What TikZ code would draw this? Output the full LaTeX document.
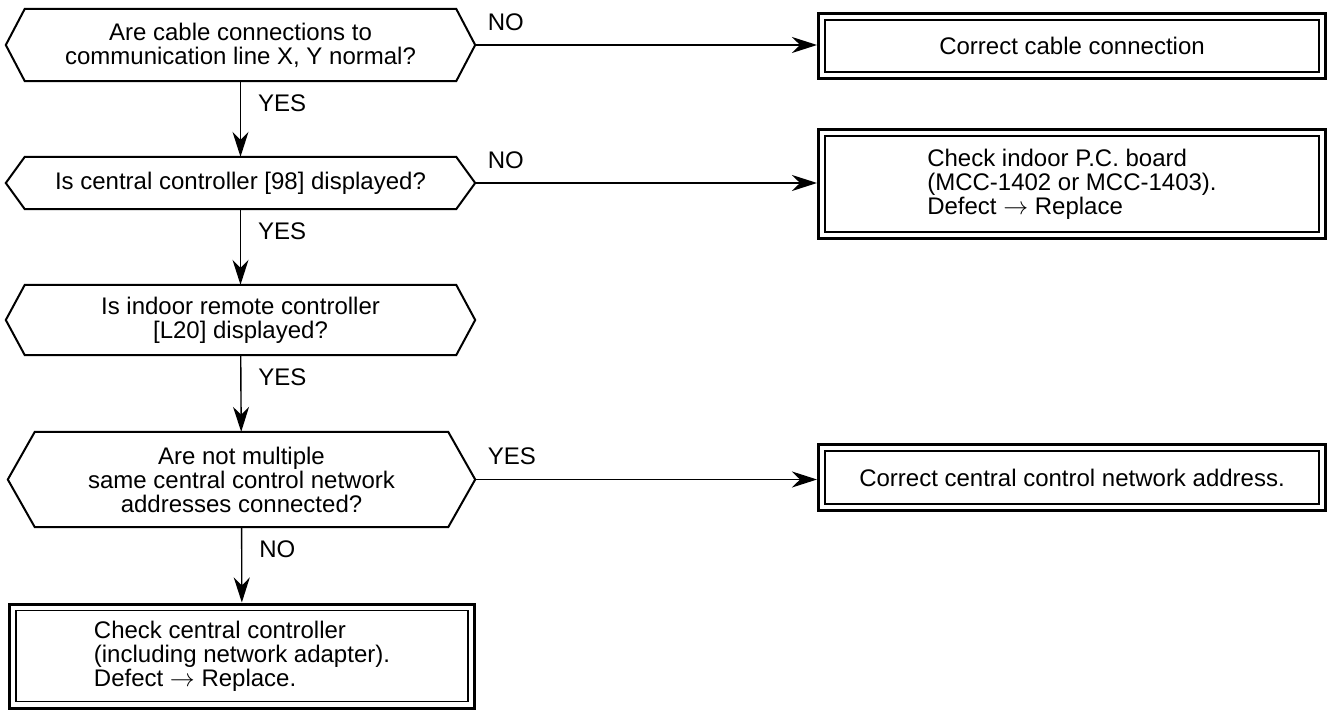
\documentclass[tikz,border=0pt]{standalone}
\usepackage{fontspec}
\setmainfont{Liberation Sans}
\usetikzlibrary{arrows.meta,positioning,calc}

\begin{document}
\begin{tikzpicture}[
  x=1pt, y=-1pt,
  font=\fontsize{24}{24}\selectfont,
  decision/.style={inner sep=0, align=center},
  decision frame/.style={line width=2pt, line join=miter},
  box/.style={draw, line width=3pt, inner sep=0, align=center},
  inner frame/.style={line width=1.3pt},
  arrow/.style={-{Stealth[length=25pt,width=16pt,inset=8pt]}, line width=1.4pt},
  tag/.style={inner sep=0}
]
  \useasboundingbox (0,0) rectangle (1330,711);

  % Questions
  \node[decision, minimum width=431pt, minimum height=72pt] (q1) at (240.5,45) {Are cable connections to\\communication line X, Y normal?};
  \node[decision, minimum width=431pt, minimum height=52pt] (q2) at (240.5,183) {Is central controller [98] displayed?};
  \node[decision, minimum width=431pt, minimum height=70pt] (q3) at (240.5,320) {Is indoor remote controller\\{}[L20] displayed?};
  \node[decision, minimum width=413pt, minimum height=95pt] (q4) at (241.5,479.5) {Are not multiple\\same central control network\\addresses connected?};

  % Actions
  \node[box, minimum width=507pt, minimum height=65pt] (b1) at (1072,46) {Correct cable connection};
  \node[box, minimum width=507pt, minimum height=109pt, align=left] (b2) at (1072,184) {Check indoor P.C. board\\(MCC-1402 or MCC-1403).\\Defect $\rightarrow$ Replace};
  \node[box, minimum width=507pt, minimum height=66pt] (b3) at (1072,477.5) {Correct central control network address.};
  \node[box, minimum width=465pt, minimum height=104pt, align=left] (chk) at (242,656) {Check central controller\\(including network adapter).\\Defect $\rightarrow$ Replace.};

  % Hexagon outlines
  \foreach \q/\ins in {q1/19, q2/19, q3/19, q4/27}
    \draw[decision frame] (\q.north west) -- (\q.north east) -- ([xshift=\ins pt]\q.east) coordinate (\q-tip)
      -- (\q.south east) -- (\q.south west) -- ([xshift=-\ins pt]\q.west) -- cycle;

  % Inner frames
  \foreach \b in {b1,b2,b3,chk}
    \draw[inner frame] ([shift={(8,8)}]\b.north west) rectangle ([shift={(-8,-8)}]\b.south east);

  % Arrows
  \draw[arrow] (q1) -- (q2) node[tag, pos=0, anchor=north west, xshift=17pt, yshift=-13pt] {YES};
  \draw[arrow] (q2) -- (q3) node[tag, pos=0, anchor=north west, xshift=17pt, yshift=-13pt] {YES};
  \draw[arrow] (q3) -- (q4) node[tag, pos=0, anchor=north west, xshift=17pt, yshift=-13pt] {YES};
  \draw[arrow] (q4) -- (chk) node[tag, pos=0, anchor=north west, xshift=17pt, yshift=-13pt] {NO};

  \draw[arrow] (q1-tip) -- (q1-tip -| b1.west) node[tag, pos=0, anchor=south west, xshift=12pt, yshift=14pt] {NO};
  \draw[arrow] (q2-tip) -- (q2-tip -| b2.west) node[tag, pos=0, anchor=south west, xshift=12pt, yshift=14pt] {NO};
  \draw[arrow] (q4-tip) -- (q4-tip -| b3.west) node[tag, pos=0, anchor=south west, xshift=12pt, yshift=14pt] {YES};
\end{tikzpicture}
\end{document}
